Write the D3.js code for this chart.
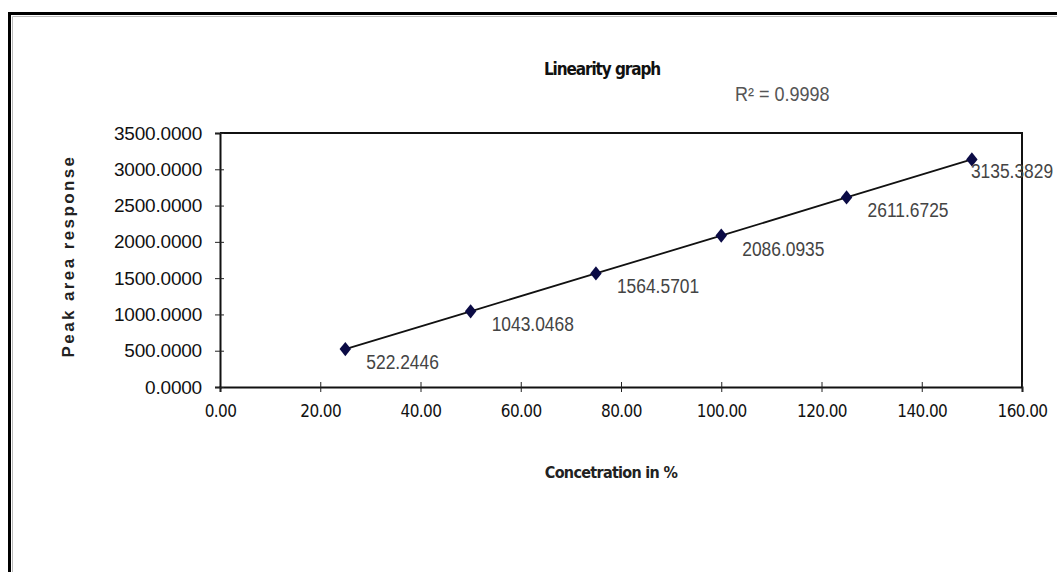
<!DOCTYPE html>
<html lang="en">
<head>
    <meta charset="UTF-8">
    <title>Linearity graph</title>
    <script src="https://d3js.org/d3.v7.min.js"></script>
    <style>
        body { margin: 0; background: white; }
        #canvas { display: block; }
    </style>
</head>
<body>
<svg id="canvas" width="1057" height="572"></svg>
<script>
    // data
    let concentration = [25, 50, 75, 100, 125, 150];
    let peakArea = [522.2446, 1043.0468, 1564.5701, 2086.0935, 2611.6725, 3135.3829];
    let xTicks = [0, 20, 40, 60, 80, 100, 120, 140, 160];
    let yTicks = [0, 500, 1000, 1500, 2000, 2500, 3000, 3500];
    let rSquared = "R\u00b2 = 0.9998";

    let svg = d3.select('svg');

    // outer frame
    svg.append('path')
        .attr('d', 'M9.5,580 V13.5 H1070')
        .attr('fill', 'none').attr('stroke', 'black').attr('stroke-width', 3);
    svg.append('path')
        .attr('d', 'M12.5,580 V16.5 H1070')
        .attr('fill', 'none').attr('stroke', '#bbb').attr('stroke-width', 1);

    let plotLeft = 220, plotRight = 1022, plotTop = 133, plotBottom = 387;

    let x = d3.scaleLinear().domain([0, 160]).range([plotLeft, plotRight]);
    let y = d3.scaleLinear().domain([0, 3500]).range([plotBottom, plotTop]);

    // plot box top and right
    svg.append('path')
        .attr('d', `M${plotLeft},${plotTop} H${plotRight} V${plotBottom}`)
        .attr('fill', 'none').attr('stroke', '#111').attr('stroke-width', 2);

    let xAxis = svg.append('g')
        .attr('transform', `translate(0,${plotBottom})`)
        .call(d3.axisBottom(x).tickValues(xTicks).tickSize(5).tickFormat(d3.format('.2f')));
    xAxis.select('.domain').attr('stroke', '#111').attr('stroke-width', 2);
    xAxis.selectAll('.tick line').attr('y1', -5).attr('y2', 5).attr('stroke', '#222');
    xAxis.selectAll('.tick text')
        .attr('y', 18).attr('font-size', 17).attr('fill', '#111')
        .attr('font-family', '"DejaVu Sans Condensed", sans-serif')
        .attr('letter-spacing', -0.6);

    let yAxis = svg.append('g')
        .attr('transform', `translate(${plotLeft},0)`)
        .call(d3.axisLeft(y).tickValues(yTicks).tickSize(5).tickFormat(d3.format('.4f')));
    yAxis.select('.domain').attr('stroke', '#111').attr('stroke-width', 2);
    yAxis.selectAll('.tick line').attr('x1', -5).attr('x2', 4).attr('stroke', '#222');
    yAxis.selectAll('.tick text')
        .attr('x', -18).attr('font-size', 19).attr('fill', '#111')
        .attr('font-family', '"Liberation Sans", Arial, sans-serif')
        .attr('letter-spacing', -0.2);

    // trend line
    let line = d3.line().x(function (d, i) { return x(concentration[i]); }).y(function (d) { return y(d); });
    svg.append('path')
        .datum(peakArea)
        .attr('d', line)
        .attr('fill', 'none').attr('stroke', '#111').attr('stroke-width', 1.8);

    // tall diamond markers
    let tallDiamond = {
        draw: function (ctx, size) {
            let h = Math.sqrt(size) * 0.8, w = h * 0.8;
            ctx.moveTo(0, -h); ctx.lineTo(w, 0); ctx.lineTo(0, h); ctx.lineTo(-w, 0); ctx.closePath();
        }
    };
    svg.selectAll('.marker')
        .data(peakArea)
        .enter()
        .append('path')
        .attr('class', 'marker')
        .attr('d', d3.symbol().type(tallDiamond).size(80))
        .attr('transform', function (d, i) { return `translate(${x(concentration[i])},${y(d)})`; })
        .attr('fill', '#0b0b45');

    // data labels
    svg.selectAll('.label')
        .data(peakArea)
        .enter()
        .append('text')
        .attr('class', 'label')
        .attr('transform', function (d, i) {
            let lx = x(concentration[i]) + 21, ly = y(d) + 20;
            if (i === peakArea.length - 1) { lx = x(concentration[i]) - 1; ly = y(d) + 19; }
            return `translate(${lx},${ly}) scale(0.87,1)`;
        })
        .attr('font-family', '"Liberation Sans", Arial, sans-serif')
        .attr('font-size', 20).attr('fill', '#444')
        .text(function (d) { return d3.format('.4f')(d); });

    // title and texts
    svg.append('text')
        .attr('x', 602).attr('y', 75).attr('text-anchor', 'middle')
        .attr('font-family', '"DejaVu Sans Condensed", sans-serif').attr('font-weight', 'bold')
        .attr('font-size', 17).attr('letter-spacing', -1.1).attr('fill', '#111')
        .text('Linearity graph');
    svg.append('text')
        .attr('transform', 'translate(735,101) scale(0.9,1)')
        .attr('font-family', '"Liberation Sans", Arial, sans-serif')
        .attr('font-size', 20).attr('fill', '#555')
        .text(rSquared);
    svg.append('text')
        .attr('x', 611).attr('y', 478).attr('text-anchor', 'middle')
        .attr('font-family', '"DejaVu Sans Condensed", sans-serif').attr('font-weight', 'bold')
        .attr('font-size', 16).attr('letter-spacing', -0.7).attr('fill', '#222')
        .text('Concetration in %');
    svg.append('text')
        .attr('transform', 'translate(74,256) rotate(-90)').attr('text-anchor', 'middle')
        .attr('font-family', '"Liberation Sans", Arial, sans-serif').attr('font-weight', 'bold')
        .attr('font-size', 17).attr('letter-spacing', 2.4).attr('fill', '#222')
        .text('Peak area response');
</script>
</body>
</html>
